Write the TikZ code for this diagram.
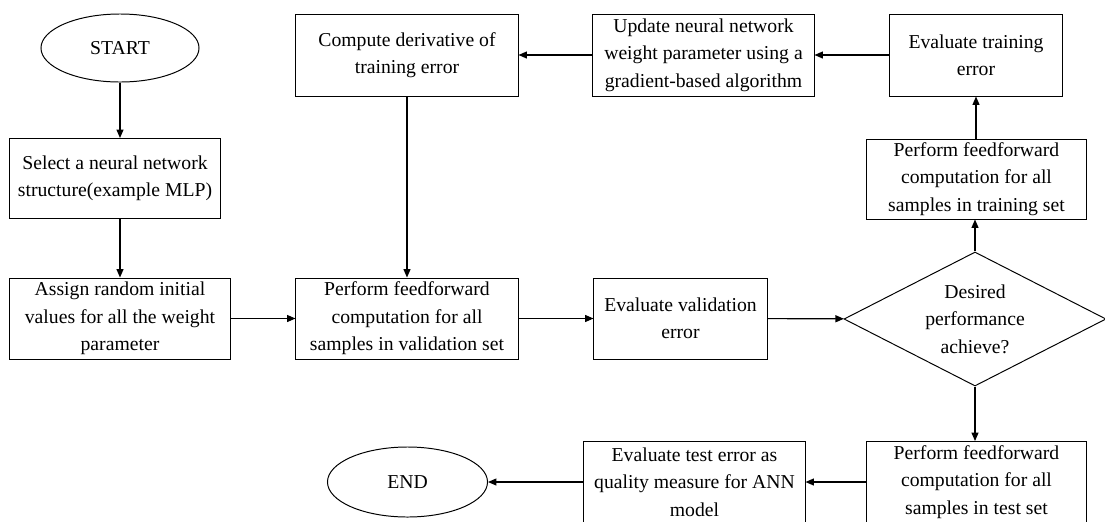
\documentclass[tikz,border=0pt]{standalone}
\usepackage{fontspec}
\setmainfont{Liberation Serif}
\usetikzlibrary{shapes.geometric,arrows.meta}

\tikzset{
  procbox/.style = {draw, line width=0.7pt, align=center, inner sep=0pt,
                    minimum height=2.025cm, font=\fontsize{14}{19.5}\selectfont},
  termnode/.style = {draw, ellipse, line width=0.7pt, inner sep=0pt,
                     font=\fontsize{14}{19.5}\selectfont},
  flow/.style = {line width=0.8pt, -{Triangle[length=6pt,width=5pt]}}
}

\begin{document}
\begin{tikzpicture}[x=0.025cm, y=-0.025cm]
\useasboundingbox (0,0) rectangle (1105,521);
\node[termnode, minimum width=3.95cm, minimum height=1.7cm] (start) at (120, 48){START};
\node[procbox, minimum width=5.25cm, minimum height=2cm] (select) at (115, 178.5){Select a neural network\\structure(example MLP)};
\node[procbox, minimum width=5.5cm] (assign) at (120, 318.5){Assign random initial\\values for all the weight\\parameter};
\node[procbox, minimum width=5.55cm] (valff) at (407, 318.5){Perform feedforward\\computation for all\\samples in validation set};
\node[procbox, minimum width=5.55cm, minimum height=2.05cm] (compute) at (407, 55){Compute derivative of\\training error};
\node[procbox, minimum width=5.525cm, minimum height=2.05cm] (update) at (703.5, 55){Update neural network\\weight parameter using a\\gradient-based algorithm};
\node[procbox, minimum width=4.3cm, minimum height=2.05cm] (evaltrain) at (976, 55){Evaluate training\\error};
\node[procbox, minimum width=5.475cm, minimum height=2cm] (trainff) at (976.5, 179){Perform feedforward\\computation for all\\samples in training set};
\node[procbox, minimum width=4.325cm] (evalval) at (680.5, 318.5){Evaluate validation\\error};
\node[draw, diamond, line width=0.7pt, align=center, inner sep=0pt, aspect=2,
      minimum width=6.55cm, minimum height=3.35cm,
      font=\fontsize{14}{19.5}\selectfont] (decide) at (975, 319){Desired\\performance\\achieve?};
\node[procbox, minimum width=5.475cm] (testff) at (976.5, 482){Perform feedforward\\computation for all\\samples in test set};
\node[procbox, minimum width=5.525cm] (testerr) at (694.5, 482){Evaluate test error as\\quality measure for ANN\\model};
\node[termnode, minimum width=4cm, minimum height=1.75cm] (finish) at (407.5, 482){END};
% main flow
\draw[flow] (start.south) -- (start.south |- select.north);
\draw[flow] (assign.north |- select.south) -- (assign.north);
\draw[flow] (assign) -- (valff);
\draw[flow] (valff) -- (evalval);
\draw[flow] (evalval) -- (decide);
% training loop
\draw[flow] (decide.north) -- (decide.north |- trainff.south);
\draw[flow] (trainff.north -| evaltrain.south) -- (evaltrain.south);
\draw[flow] (evaltrain) -- (update);
\draw[flow] (update) -- (compute);
\draw[flow] (compute) -- (valff);
% testing
\draw[flow] (decide.south) -- (decide.south |- testff.north);
\draw[flow] (testff) -- (testerr);
\draw[flow] (testerr) -- (finish);
\end{tikzpicture}
\end{document}
